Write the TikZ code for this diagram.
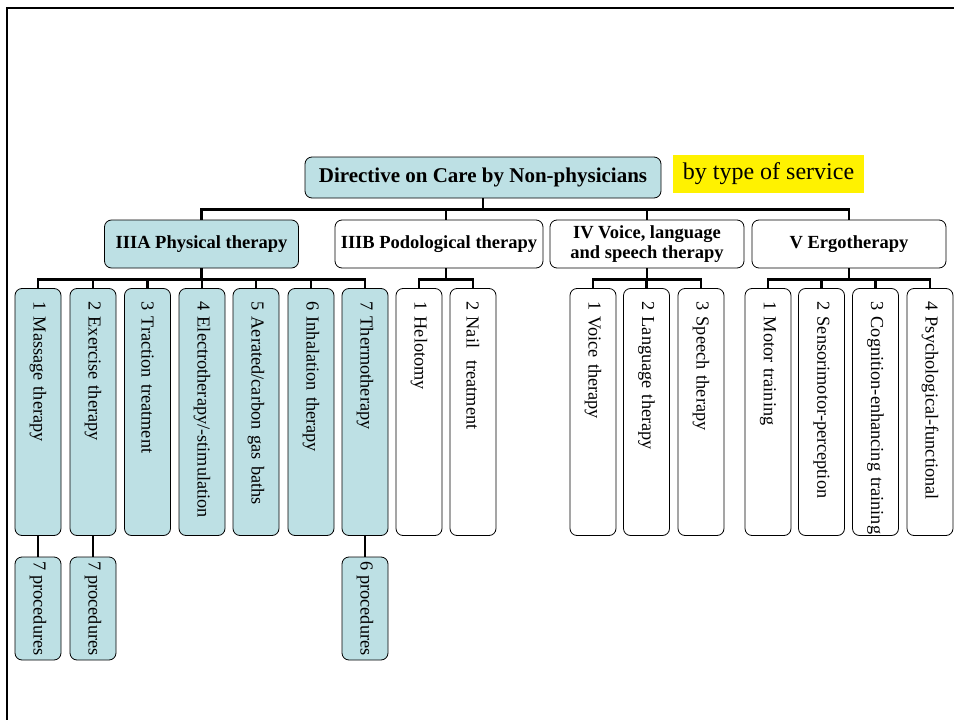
\documentclass[tikz,border=0pt]{standalone}
\usepackage{fontspec}
\setmainfont{Liberation Serif}
\definecolor{ptblue}{RGB}{189,224,228}

\begin{document}
\begin{tikzpicture}[x=1pt, y=-1pt,
	box/.style={draw, rounded corners=7pt, line width=0.8pt},
	head/.style={box, minimum width=194pt, minimum height=48pt, align=center, font=\bfseries\fontsize{18.5}{20}\selectfont},
	leaf/.style={box, rotate=-90, inner xsep=0pt, text width=247pt, align=left, minimum height=46pt, font=\fontsize{18.3}{20}\selectfont, execute at begin node={\hspace*{13pt}}},
	proc/.style={box, rotate=-90, inner xsep=0pt, minimum width=103pt, minimum height=46pt, font=\fontsize{18.3}{20}\selectfont},
	link/.style={line width=2.6pt}]
			\useasboundingbox (0, 0) rectangle (954, 720);
			\draw[line width=2.5pt] (7, 720) -- (7, 8) -- (954, 8);

			\draw (483, 177.5) 	node[box, fill=ptblue, minimum width=356pt, minimum height=41pt, font=\bfseries\fontsize{21}{24}\selectfont] 	(root) 	{Directive on Care by Non-physicians};
			\draw (768.5, 174) 	node[fill=yellow, minimum width=191pt, minimum height=38pt, font=\fontsize{24}{26}\selectfont] 	(bytype) 	{by type of service};

			\draw (201.5, 244) 	node[head, fill=ptblue] 	(ptherapy) 	{IIIA Physical therapy};
			\draw (439, 244) 	node[head, minimum width=208pt] 	(podo) 	{IIIB Podological therapy};
			\draw (647, 244) 	node[head] 	(voice) 	{IV Voice, language\\and speech therapy};
			\draw (849, 244) 	node[head] 	(ergo) 	{V Ergotherapy};

			\draw (38, 412) 	node[leaf, fill=ptblue] 	(pt1) 	{1 Massage therapy};
			\draw (93, 412) 	node[leaf, fill=ptblue] 	(pt2) 	{2 Exercise therapy};
			\draw (147.5, 412) 	node[leaf, fill=ptblue] 	(pt3) 	{3 Traction treatment};
			\draw (202, 412) 	node[leaf, fill=ptblue] 	(pt4) 	{4 Electrotherapy/-stimulation};
			\draw (256, 412) 	node[leaf, fill=ptblue] 	(pt5) 	{5 Aerated/carbon gas baths};
			\draw (311, 412) 	node[leaf, fill=ptblue] 	(pt6) 	{6 Inhalation therapy};
			\draw (365, 412) 	node[leaf, fill=ptblue] 	(pt7) 	{7 Thermotherapy};
			\draw (419, 412) 	node[leaf] 	(podo1) 	{1 Helotomy};
			\draw (473, 412) 	node[leaf] 	(podo2) 	{2 Nail\ \ treatment};
			\draw (593, 412) 	node[leaf] 	(voice1) 	{1 Voice therapy};
			\draw (646.5, 412) 	node[leaf] 	(voice2) 	{2 Language therapy};
			\draw (701, 412) 	node[leaf] 	(voice3) 	{3 Speech therapy};
			\draw (768, 412) 	node[leaf] 	(ergo1) 	{1 Motor training};
			\draw (821.5, 412) 	node[leaf] 	(ergo2) 	{2 Sensorimotor-perception};
			\draw (875.5, 412) 	node[leaf] 	(ergo3) 	{3 Cognition-enhancing training};
			\draw (930, 412) 	node[leaf] 	(ergo4) 	{4 Psychological-functional};

			\draw (38, 608.5) 	node[proc, fill=ptblue] 	(pt1_p) 	{7 procedures};
			\draw (93, 608.5) 	node[proc, fill=ptblue] 	(pt2_p) 	{7 procedures};
			\draw (365, 608.5) 	node[proc, fill=ptblue] 	(pt7_p) 	{6 procedures};

			% top level
			\draw[link] (root.south) -- ++(0, 11) -| (ptherapy.north);
			\draw[link] (root.south) -- ++(0, 11) -| ([xshift=7pt]podo.north);
			\draw[link] (root.south) -- ++(0, 11) -| (voice.north);
			\draw[link] (root.south) -- ++(0, 11) -| (ergo.north);

			% IIIA
			\draw[link] (ptherapy.south) -- ++(0, 11) -| (pt1.west);
			\draw[link] (ptherapy.south) -- ++(0, 11) -| (pt2.west);
			\draw[link] (ptherapy.south) -- ++(0, 11) -| (pt3.west);
			\draw[link] (ptherapy.south) -- ++(0, 11) -| (pt4.west);
			\draw[link] (ptherapy.south) -- ++(0, 11) -| (pt5.west);
			\draw[link] (ptherapy.south) -- ++(0, 11) -| (pt6.west);
			\draw[link] (ptherapy.south) -- ++(0, 11) -| (pt7.west);
			\draw[link] (pt1.east) -- (pt1_p.west);
			\draw[link] (pt2.east) -- (pt2_p.west);
			\draw[link] (pt7.east) -- (pt7_p.west);

			% IIIB
			\draw[link] ([xshift=7pt]podo.south) -- ++(0, 11) -| (podo1.west);
			\draw[link] ([xshift=7pt]podo.south) -- ++(0, 11) -| (podo2.west);

			% IV
			\draw[link] (voice.south) -- ++(0, 11) -| (voice1.west);
			\draw[link] (voice.south) -- ++(0, 11) -| (voice2.west);
			\draw[link] (voice.south) -- ++(0, 11) -| (voice3.west);

			% V
			\draw[link] (ergo.south) -- ++(0, 11) -| (ergo1.west);
			\draw[link] (ergo.south) -- ++(0, 11) -| (ergo2.west);
			\draw[link] (ergo.south) -- ++(0, 11) -| (ergo3.west);
			\draw[link] (ergo.south) -- ++(0, 11) -| (ergo4.west);
		\end{tikzpicture}
\end{document}
